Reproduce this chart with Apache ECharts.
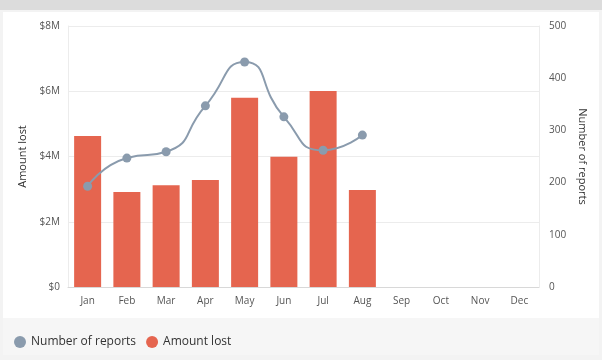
<!DOCTYPE html>
<html><head><meta charset="utf-8">
<script src="https://cdn.jsdelivr.net/npm/echarts@6/dist/echarts.min.js"></script>
<style>html,body{margin:0;padding:0;background:#f3f3f3;}#c{width:602px;height:360px;}</style>
</head><body><div id="c"></div>
<script>
const categories = ['Jan','Feb','Mar','Apr','May','Jun','Jul','Aug','Sep','Oct','Nov','Dec'];
const amountLost = [4.63e6, 2.91e6, 3.12e6, 3.28e6, 5.8e6, 3.99e6, 6.01e6, 2.97e6, null, null, null, null];
const numberOfReports = [193, 247, 259, 347, 431, 326, 262, 291, null, null, null, null];
const leftTicks = ['$0','$2M','$4M','$6M','$8M'];

const chart = echarts.init(document.getElementById('c'), null, {renderer:'canvas'});
const font = '"Open Sans", sans-serif';
chart.setOption({
  backgroundColor: '#f3f3f3',
  animation: false,
  textStyle: {fontFamily: font},
  graphic: [
    {type:'rect', shape:{x:0,y:0,width:602,height:10}, style:{fill:'#dcdcdc'}, z:-10},
    {type:'rect', shape:{x:3,y:12,width:596,height:306}, style:{fill:'#ffffff'}, z:-10},
    {type:'rect', shape:{x:3,y:318,width:596,height:37}, style:{fill:'#f6f6f6'}, z:-10}
  ],
  grid: {left: 68, right: 63, top: 26, bottom: 73},
  legend: {
    left: 9, top: 331,
    itemWidth: 12, itemHeight: 12, itemGap: 10,
    icon: 'circle',
    textStyle: {fontSize: 12, color: '#333', fontFamily: font},
    data: ['Number of reports', 'Amount lost']
  },
  xAxis: {
    type: 'category', data: categories,
    axisLine: {lineStyle: {color: '#d8d8d8'}},
    axisTick: {show: false},
    axisLabel: {color: '#555', fontSize: 10, margin: 9}
  },
  yAxis: [
    {type:'value', min:0, max:8e6, interval:2e6, name:'Amount lost', nameLocation:'middle', nameGap:40,
     nameTextStyle:{color:'#333', fontSize:11},
     axisLine:{show:true, lineStyle:{color:'#ececec'}},
     axisLabel:{color:'#555', fontSize:10, formatter: (v) => leftTicks[Math.round(v/2e6)]},
     splitLine:{lineStyle:{color:'#ececec'}}},
    {type:'value', min:0, max:500, interval:100, name:'Number of reports', nameLocation:'middle', nameGap:38,
     nameRotate: -90,
     nameTextStyle:{color:'#333', fontSize:11},
     axisLine:{show:true, lineStyle:{color:'#ececec'}},
     axisLabel:{color:'#555', fontSize:10, margin:10},
     splitLine:{show:false}}
  ],
  series: [
    {name:'Amount lost', type:'bar', data: amountLost, yAxisIndex:0, barWidth:27,
     itemStyle:{color:'#e5654f'}, z:2},
    {name:'Number of reports', type:'line', data: numberOfReports, yAxisIndex:1, smooth:0.6,
     symbol:'circle', symbolSize:9, connectNulls:false,
     lineStyle:{color:'#8a9bad', width:2}, itemStyle:{color:'#8a9bad'}, z:3}
  ]
});
</script></body></html>
